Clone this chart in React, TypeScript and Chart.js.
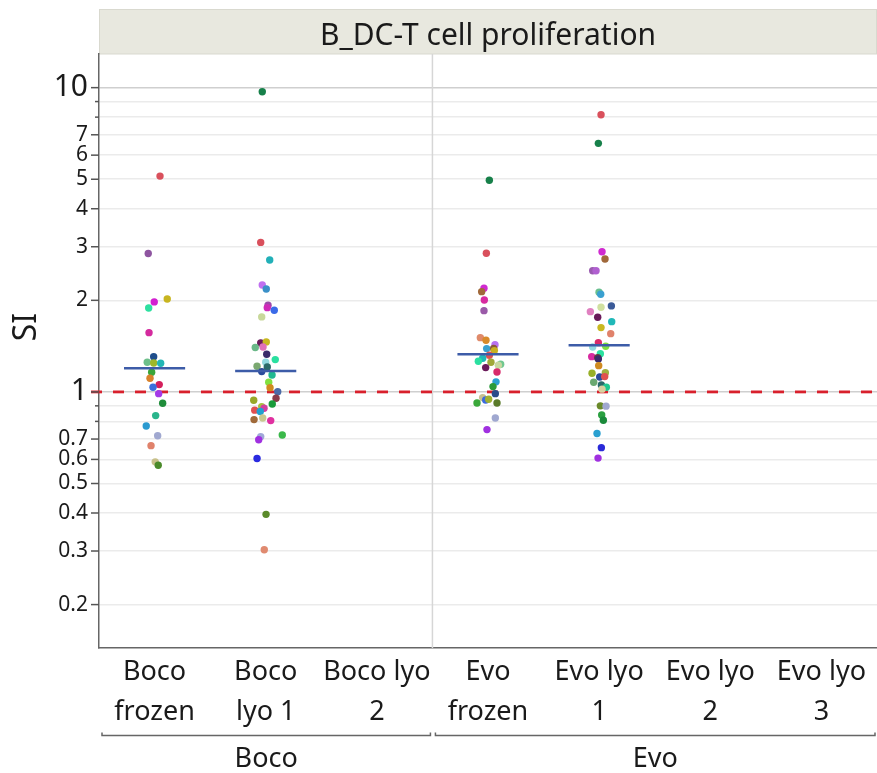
import React, { useEffect, useRef } from 'react';
import { Chart, registerables } from 'chart.js';

Chart.register(...registerables);

const FONT = '"Noto Sans", "Open Sans", sans-serif';
const TEXT = '#1a1a1a';

// ---------- data ----------
const chartTitle = 'B_DC-T cell proliferation';
const yTitle = 'SI';
const categories: string[][] = [
  ['Boco', 'frozen'],
  ['Boco', 'lyo 1'],
  ['Boco lyo', '2'],
  ['Evo', 'frozen'],
  ['Evo lyo', '1'],
  ['Evo lyo', '2'],
  ['Evo lyo', '3'],
];
const groupNames = ['Boco', 'Evo'];
const groupFirst = [0, 3];
const groupLast = [2, 6];

const yTickValues = [0.2, 0.3, 0.4, 0.5, 0.6, 0.7, 0.8, 0.9, 1, 2, 3, 4, 5, 6, 7, 8, 9, 10];
const yTickLabels = ['0.2', '0.3', '0.4', '0.5', '0.6', '0.7', '', '', '1', '2', '3', '4', '5', '6', '7', '', '', '10'];
const yBigLabels = ['1', '10'];
const yMin = 0.144;
const yMax = 12.9;

const referenceSI = 1;
const geoMeanSI: (number | null)[] = [1.196, 1.172, null, 1.33, 1.423, null, null];

const bocoFrozenSI = [5.12, 2.85, 2.02, 1.976, 1.888, 1.566, 1.306, 1.252, 1.245, 1.242, 1.161, 1.109, 1.057, 1.036, 0.987, 0.918, 0.836, 0.773, 0.718, 0.666, 0.589, 0.574];
const bocoFrozenJitter = [0.049, -0.057, 0.114, -0.003, -0.053, -0.05, -0.008, -0.066, -0.008, 0.055, -0.026, -0.041, 0.042, -0.014, 0.037, 0.073, 0.01, -0.075, 0.028, -0.032, 0.006, 0.033];
const bocoFrozenColors = ['#d9505c', '#8e55a0', '#c8b520', '#d21fd0', '#2de0a0', '#d42a9e', '#1f4e8c', '#6dbf8a', '#9fb82a', '#22b5b5', '#3aa63a', '#d9822b', '#d41f5c', '#3a6fdc', '#a43ae8', '#1f8c3a', '#2ab58c', '#2a9ad0', '#a0a8d0', '#e0826b', '#c8c08a', '#4a8a2a'];

const bocoLyo1SI = [9.69, 3.1, 2.715, 2.247, 2.18, 1.927, 1.892, 1.855, 1.764, 1.449, 1.46, 1.405, 1.4, 1.33, 1.277, 1.252, 1.214, 1.208, 1.166, 1.137, 1.076, 1.033, 1.002, 0.953, 0.939, 0.913, 0.895, 0.884, 0.871, 0.862, 0.811, 0.821, 0.805, 0.722, 0.713, 0.696, 0.604, 0.396, 0.303];
const bocoLyo1Jitter = [-0.031, -0.045, 0.036, -0.031, 0.005, 0.021, 0.014, 0.077, -0.036, -0.045, 0.005, -0.024, -0.094, 0.009, 0.086, 0, -0.078, 0.014, -0.036, 0.057, 0.027, 0.039, 0.108, 0.093, -0.108, 0.059, -0.036, -0.015, -0.099, -0.049, -0.105, -0.027, 0.045, 0.149, -0.045, -0.063, -0.078, 0.003, -0.013];
const bocoLyo1Colors = ['#17804a', '#d9505c', '#22b0b8', '#c070f0', '#3a90c8', '#9a4aa8', '#d02ab8', '#3a6ae8', '#c8d89a', '#6a1a5a', '#c8b820', '#e070b8', '#6ab888', '#3a2a6a', '#2ae0a0', '#90d8e0', '#7aa870', '#2a6a6a', '#2a4a9a', '#20b890', '#80e040', '#d08a20', '#4a6aa8', '#8a3a4a', '#98a828', '#1a9a3a', '#a8c040', '#d040a0', '#e05050', '#20a0d0', '#a06a3a', '#c8c890', '#e030a0', '#3ab84a', '#a0a8d8', '#a030e0', '#2a2ae0', '#5a8a2a', '#e08a70'];

const evoFrozenSI = [4.96, 2.856, 2.191, 2.136, 2.005, 1.85, 1.508, 1.478, 1.43, 1.388, 1.39, 1.367, 1.32, 1.29, 1.261, 1.252, 1.233, 1.223, 1.202, 1.163, 1.079, 1.041, 0.987, 0.958, 0.941, 0.946, 0.92, 0.92, 0.821, 0.752];
const evoFrozenJitter = [0.012, -0.015, -0.036, -0.057, -0.033, -0.036, -0.069, -0.018, 0.063, -0.012, 0.051, 0.057, 0.012, -0.048, -0.087, 0.027, 0.114, 0.093, -0.021, 0.081, 0.072, 0.045, 0.066, -0.048, -0.021, 0.006, -0.099, 0.081, 0.066, -0.009];
const evoFrozenColors = ['#17804a', '#d9505c', '#d02ad0', '#a0683a', '#d82aa0', '#9a5aa8', '#e08a6a', '#d88a2a', '#b870f0', '#3aa0d0', '#8a5a3a', '#c8b020', '#e05050', '#20b8b8', '#2ae0a0', '#a0a838', '#70c890', '#c8d8a0', '#6a1a5a', '#d82a6a', '#2aa0d0', '#2a9a3a', '#2a4a8a', '#c8c090', '#3a6ae0', '#a0b030', '#3aa83a', '#5a7a2a', '#a0a8d0', '#a030e0'];

const evoLyo1SI = [8.15, 6.56, 2.89, 2.735, 2.503, 2.503, 2.126, 2.094, 1.917, 1.898, 1.836, 1.76, 1.702, 1.627, 1.554, 1.452, 1.405, 1.413, 1.336, 1.306, 1.295, 1.284, 1.22, 1.152, 1.157, 1.12, 1.123, 1.076, 1.054, 1.036, 1.021, 0.9, 0.898, 0.84, 0.807, 0.73, 0.656, 0.606];
const evoLyo1Jitter = [0.017, -0.007, 0.026, 0.053, -0.058, -0.028, -0.001, 0.014, 0.11, 0.017, -0.079, -0.013, 0.113, 0.017, 0.104, -0.007, -0.058, 0.059, 0.011, -0.067, -0.013, -0.007, -0.004, -0.064, 0.056, 0.005, 0.05, -0.049, 0.02, 0.065, 0.026, 0.011, 0.062, 0.023, 0.038, -0.019, 0.02, -0.01];
const evoLyo1Colors = ['#d9505c', '#17804a', '#d02ad0', '#a0683a', '#9a5ab0', '#b060d0', '#6ac090', '#3aa0d0', '#3a5a98', '#d0e0a0', '#e080c0', '#6a1a5a', '#20b8b8', '#c8b820', '#e0826b', '#d82a6a', '#90d8e0', '#80e040', '#2ae0a0', '#d82aa0', '#6a3a3a', '#3a2a6a', '#d08a20', '#98b028', '#a0b040', '#2a4a9a', '#e05050', '#6aa870', '#2a6a6a', '#20c890', '#d8d0a0', '#6a8a2a', '#a0a8d0', '#2aa040', '#1a8a3a', '#2aa0d0', '#2a2ad8', '#a030e0'];

const seriesSI: number[][] = [bocoFrozenSI, bocoLyo1SI, [], evoFrozenSI, evoLyo1SI, [], []];
const seriesJitter: number[][] = [bocoFrozenJitter, bocoLyo1Jitter, [], evoFrozenJitter, evoLyo1Jitter, [], []];
const seriesColors: string[][] = [bocoFrozenColors, bocoLyo1Colors, [], evoFrozenColors, evoLyo1Colors, [], []];

// ---------- chart ----------
const decorPlugin = {
  id: 'decor',
  beforeDraw(chart: any) {
    const { ctx, chartArea } = chart;
    ctx.save();
    ctx.fillStyle = '#ffffff';
    ctx.fillRect(0, 0, chart.width, chart.height);
    // header strip
    const top = 9.5;
    const h = chartArea.top - top;
    ctx.fillStyle = '#e8e8df';
    ctx.fillRect(chartArea.left, top, chartArea.right - chartArea.left, h);
    ctx.strokeStyle = '#d9d9cf';
    ctx.lineWidth = 1;
    ctx.strokeRect(chartArea.left + 0.5, top, chartArea.right - chartArea.left - 1, h);
    ctx.fillStyle = TEXT;
    ctx.font = `30px ${FONT}`;
    ctx.textAlign = 'center';
    ctx.textBaseline = 'alphabetic';
    ctx.fillText(chartTitle, (chartArea.left + chartArea.right) / 2, top + 35);
    ctx.restore();
  },
  beforeDatasetsDraw(chart: any) {
    const { ctx, chartArea, scales } = chart;
    ctx.save();
    ctx.strokeStyle = '#d6d6d6';
    ctx.lineWidth = 1.5;
    for (let g = 0; g < groupNames.length - 1; g++) {
      const x = scales.x.getPixelForValue(groupLast[g] + 0.5);
      ctx.beginPath();
      ctx.moveTo(x, chartArea.top);
      ctx.lineTo(x, chartArea.bottom);
      ctx.stroke();
    }
    ctx.restore();
  },
  afterDraw(chart: any) {
    const { ctx, chartArea, scales } = chart;
    ctx.save();
    // y tick marks
    ctx.strokeStyle = '#555';
    ctx.lineWidth = 1.5;
    yTickValues.forEach((v, i) => {
      const y = scales.y.getPixelForValue(v);
      const len = yTickLabels[i] ? 8 : 4;
      ctx.beginPath();
      ctx.moveTo(chartArea.left - len, y);
      ctx.lineTo(chartArea.left, y);
      ctx.stroke();
    });
    // group brackets
    const by = chartArea.bottom + 87.5;
    ctx.strokeStyle = '#666';
    ctx.lineWidth = 1.5;
    ctx.fillStyle = TEXT;
    ctx.font = `27px ${FONT}`;
    ctx.textAlign = 'center';
    ctx.textBaseline = 'alphabetic';
    groupNames.forEach((name, g) => {
      const x1 = Math.max(scales.x.getPixelForValue(groupFirst[g] - 0.5) + 3, chartArea.left + 3);
      const x2 = Math.min(scales.x.getPixelForValue(groupLast[g] + 0.5) - 2, chart.width - 1);
      ctx.beginPath();
      ctx.moveTo(x1, by - 3);
      ctx.lineTo(x1, by);
      ctx.lineTo(x2, by);
      ctx.lineTo(x2, by - 3);
      ctx.stroke();
      ctx.fillText(name, (x1 + x2) / 2, by + 31);
    });
    // y title
    ctx.translate(27, 327);
    ctx.rotate(-Math.PI / 2);
    ctx.font = `32px ${FONT}`;
    ctx.textBaseline = 'middle';
    ctx.fillText(yTitle, 0, 0);
    ctx.restore();
  },
};

export default function App() {
  const ref = useRef<HTMLCanvasElement | null>(null);
  useEffect(() => {
    if (!ref.current) return;
    const pointSets = seriesSI
      .map((vals, i) => ({
        type: 'scatter' as const,
        data: vals.map((v, k) => ({ x: i + seriesJitter[i][k], y: v })),
        pointBackgroundColor: seriesColors[i],
        pointBorderWidth: 0,
        pointRadius: 3.7,
        showLine: false,
        order: 2,
      }))
      .filter((d) => d.data.length > 0);
    const meanData: any[] = [];
    geoMeanSI.forEach((m, i) => {
      if (m == null) return;
      meanData.push({ x: i - 0.275, y: m }, { x: i + 0.275, y: m }, { x: i + 0.3, y: null });
    });
    const chart = new Chart(ref.current, {
      type: 'scatter',
      data: {
        datasets: [
          {
            type: 'line',
            data: [{ x: -0.572, y: referenceSI }, { x: 6.5, y: referenceSI }],
            borderColor: '#d8202c',
            borderWidth: 2.8,
            borderDash: [11, 11],
            pointRadius: 0,
            clip: false,
            order: 3,
          } as any,
          ...pointSets,
          {
            type: 'line',
            data: meanData,
            borderColor: '#3d5ca8',
            borderWidth: 2.5,
            pointRadius: 0,
            spanGaps: false,
            order: 1,
          } as any,
        ],
      },
      options: {
        responsive: false,
        animation: false,
        devicePixelRatio: 1,
        layout: { autoPadding: false, padding: { top: 54, left: 0, right: 0, bottom: 0 } },
        plugins: { legend: { display: false }, tooltip: { enabled: false } },
        scales: {
          x: {
            type: 'linear',
            min: -0.5,
            max: 6.5,
            afterBuildTicks: (axis: any) => {
              axis.ticks = categories.map((_, i) => ({ value: i }));
            },
            afterFit: (axis: any) => {
              axis.height = 125;
              axis.paddingLeft = 0;
              axis.paddingRight = 0;
            },
            grid: { display: false, drawTicks: false },
            border: { display: true, color: '#666', width: 1.5 },
            ticks: {
              autoSkip: false,
              maxRotation: 0,
              padding: 4,
              color: TEXT,
              font: { family: FONT, size: 27, lineHeight: '40px' },
              callback: (_v: any, i: number) => categories[i],
            },
          },
          y: {
            type: 'logarithmic',
            min: yMin,
            max: yMax,
            afterBuildTicks: (axis: any) => {
              axis.ticks = yTickValues.map((v) => ({ value: v }));
            },
            afterFit: (axis: any) => {
              axis.width = 99;
              axis.paddingTop = 0;
              axis.paddingBottom = 0;
            },
            grid: {
              drawTicks: false,
              lineWidth: 1.5,
              color: (c: any) => (c.tick && (c.tick.value === 1 || c.tick.value === 10) ? '#cfcfcf' : '#ebebeb'),
            },
            border: { display: true, color: '#666', width: 1.5 },
            ticks: {
              autoSkip: false,
              padding: 11,
              color: TEXT,
              font: (c: any) => ({
                family: FONT,
                size: c.tick && yBigLabels.includes(yTickLabels[c.index]) ? 30 : 21,
              }),
              callback: (_v: any, i: number) => yTickLabels[i],
            },
          },
        },
      },
      plugins: [decorPlugin],
    });
    return () => chart.destroy();
  }, []);
  return (
    <div style={{ position: 'fixed', left: 0, top: 0, width: 877, height: 773, overflow: 'hidden', background: '#fff' }}>
      <canvas ref={ref} width={877} height={773} style={{ display: 'block', width: 877, height: 773 }} />
    </div>
  );
}
